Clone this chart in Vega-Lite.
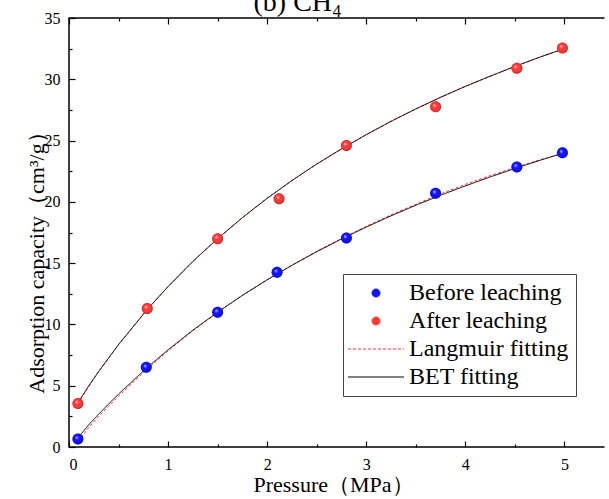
{
  "$schema": "https://vega.github.io/schema/vega-lite/v6.json",
  "width": 539,
  "height": 429,
  "autosize": {"type": "none"},
  "padding": {"left": 69, "top": 18, "right": 1, "bottom": 52},
  "background": "white",
  "config": {
    "view": {"stroke": {"gradient": "linear", "x1": 0, "y1": 0, "x2": 1, "y2": 0, "stops": [{"offset": 0, "color": "black"}, {"offset": 0.993, "color": "black"}, {"offset": 0.994, "color": "rgba(0,0,0,0)"}, {"offset": 1, "color": "rgba(0,0,0,0)"}]}, "strokeWidth": 1.5},
    "axis": {"domain": false, "tickColor": "black", "labelColor": "black", "titleColor": "black", "labelFont": "Liberation Serif", "titleFont": "Liberation Serif", "labelFontSize": 16, "titleFontSize": 22, "titleFontWeight": "normal", "grid": false, "tickWidth": 1.2},
    "legend": {"orient": "none", "legendX": 274, "legendY": 256, "labelFont": "Liberation Serif", "labelFontSize": 24, "labelColor": "black", "symbolSize": 100, "symbolStrokeWidth": 1, "symbolOffset": 14, "labelOffset": 21, "padding": 7, "rowPadding": 4, "strokeColor": "#444444", "fillColor": "white"}
  },
  "datasets": {
    "points": [
      {"P": 0.09, "V": 0.65, "key": "Before leaching"},
      {"P": 0.78, "V": 6.5, "key": "Before leaching"},
      {"P": 1.5, "V": 11.0, "key": "Before leaching"},
      {"P": 2.1, "V": 14.25, "key": "Before leaching"},
      {"P": 2.8, "V": 17.05, "key": "Before leaching"},
      {"P": 3.7, "V": 20.7, "key": "Before leaching"},
      {"P": 4.52, "V": 22.85, "key": "Before leaching"},
      {"P": 4.98, "V": 24.0, "key": "Before leaching"},
      {"P": 0.09, "V": 3.55, "key": "After leaching"},
      {"P": 0.79, "V": 11.3, "key": "After leaching"},
      {"P": 1.5, "V": 17.0, "key": "After leaching"},
      {"P": 2.12, "V": 20.25, "key": "After leaching"},
      {"P": 2.8, "V": 24.6, "key": "After leaching"},
      {"P": 3.7, "V": 27.75, "key": "After leaching"},
      {"P": 4.52, "V": 30.9, "key": "After leaching"},
      {"P": 4.98, "V": 32.55, "key": "After leaching"}
    ],
    "langmuir": [
      {"P": 0.09, "V": 0.45, "material": "before", "key": "Langmuir fitting"},
      {"P": 0.2, "V": 1.6, "material": "before", "key": "Langmuir fitting"},
      {"P": 0.3, "V": 2.5, "material": "before", "key": "Langmuir fitting"},
      {"P": 0.5, "V": 4.15, "material": "before", "key": "Langmuir fitting"},
      {"P": 0.78, "V": 6.3, "material": "before", "key": "Langmuir fitting"},
      {"P": 1.0, "V": 7.85, "material": "before", "key": "Langmuir fitting"},
      {"P": 1.25, "V": 9.48, "material": "before", "key": "Langmuir fitting"},
      {"P": 1.5, "V": 10.98, "material": "before", "key": "Langmuir fitting"},
      {"P": 1.75, "V": 12.37, "material": "before", "key": "Langmuir fitting"},
      {"P": 2.0, "V": 13.65, "material": "before", "key": "Langmuir fitting"},
      {"P": 2.25, "V": 14.84, "material": "before", "key": "Langmuir fitting"},
      {"P": 2.5, "V": 15.97, "material": "before", "key": "Langmuir fitting"},
      {"P": 2.75, "V": 17.01, "material": "before", "key": "Langmuir fitting"},
      {"P": 3.0, "V": 18.0, "material": "before", "key": "Langmuir fitting"},
      {"P": 3.25, "V": 18.93, "material": "before", "key": "Langmuir fitting"},
      {"P": 3.5, "V": 19.8, "material": "before", "key": "Langmuir fitting"},
      {"P": 3.75, "V": 20.64, "material": "before", "key": "Langmuir fitting"},
      {"P": 4.0, "V": 21.42, "material": "before", "key": "Langmuir fitting"},
      {"P": 4.25, "V": 22.13, "material": "before", "key": "Langmuir fitting"},
      {"P": 4.5, "V": 22.8, "material": "before", "key": "Langmuir fitting"},
      {"P": 4.75, "V": 23.42, "material": "before", "key": "Langmuir fitting"},
      {"P": 4.98, "V": 23.97, "material": "before", "key": "Langmuir fitting"},
      {"P": 0.09, "V": 3.55, "material": "after", "key": "Langmuir fitting"},
      {"P": 0.2, "V": 4.95, "material": "after", "key": "Langmuir fitting"},
      {"P": 0.3, "V": 6.15, "material": "after", "key": "Langmuir fitting"},
      {"P": 0.5, "V": 8.35, "material": "after", "key": "Langmuir fitting"},
      {"P": 0.79, "V": 11.22, "material": "after", "key": "Langmuir fitting"},
      {"P": 1.0, "V": 13.09, "material": "after", "key": "Langmuir fitting"},
      {"P": 1.25, "V": 15.14, "material": "after", "key": "Langmuir fitting"},
      {"P": 1.5, "V": 17.0, "material": "after", "key": "Langmuir fitting"},
      {"P": 1.75, "V": 18.71, "material": "after", "key": "Langmuir fitting"},
      {"P": 2.0, "V": 20.29, "material": "after", "key": "Langmuir fitting"},
      {"P": 2.25, "V": 21.74, "material": "after", "key": "Langmuir fitting"},
      {"P": 2.5, "V": 23.08, "material": "after", "key": "Langmuir fitting"},
      {"P": 2.75, "V": 24.32, "material": "after", "key": "Langmuir fitting"},
      {"P": 3.0, "V": 25.48, "material": "after", "key": "Langmuir fitting"},
      {"P": 3.25, "V": 26.57, "material": "after", "key": "Langmuir fitting"},
      {"P": 3.5, "V": 27.58, "material": "after", "key": "Langmuir fitting"},
      {"P": 3.75, "V": 28.53, "material": "after", "key": "Langmuir fitting"},
      {"P": 4.0, "V": 29.42, "material": "after", "key": "Langmuir fitting"},
      {"P": 4.25, "V": 30.25, "material": "after", "key": "Langmuir fitting"},
      {"P": 4.5, "V": 31.05, "material": "after", "key": "Langmuir fitting"},
      {"P": 4.75, "V": 31.8, "material": "after", "key": "Langmuir fitting"},
      {"P": 4.98, "V": 32.45, "material": "after", "key": "Langmuir fitting"}
    ],
    "bet": [
      {"P": 0.09, "V": 0.75, "material": "before", "key": "BET fitting"},
      {"P": 0.2, "V": 1.82, "material": "before", "key": "BET fitting"},
      {"P": 0.3, "V": 2.69, "material": "before", "key": "BET fitting"},
      {"P": 0.5, "V": 4.32, "material": "before", "key": "BET fitting"},
      {"P": 0.78, "V": 6.42, "material": "before", "key": "BET fitting"},
      {"P": 1.0, "V": 7.93, "material": "before", "key": "BET fitting"},
      {"P": 1.25, "V": 9.53, "material": "before", "key": "BET fitting"},
      {"P": 1.5, "V": 11.0, "material": "before", "key": "BET fitting"},
      {"P": 1.75, "V": 12.37, "material": "before", "key": "BET fitting"},
      {"P": 2.0, "V": 13.64, "material": "before", "key": "BET fitting"},
      {"P": 2.25, "V": 14.82, "material": "before", "key": "BET fitting"},
      {"P": 2.5, "V": 15.93, "material": "before", "key": "BET fitting"},
      {"P": 2.75, "V": 16.97, "material": "before", "key": "BET fitting"},
      {"P": 3.0, "V": 17.94, "material": "before", "key": "BET fitting"},
      {"P": 3.25, "V": 18.86, "material": "before", "key": "BET fitting"},
      {"P": 3.5, "V": 19.72, "material": "before", "key": "BET fitting"},
      {"P": 3.75, "V": 20.54, "material": "before", "key": "BET fitting"},
      {"P": 4.0, "V": 21.3, "material": "before", "key": "BET fitting"},
      {"P": 4.25, "V": 22.03, "material": "before", "key": "BET fitting"},
      {"P": 4.5, "V": 22.72, "material": "before", "key": "BET fitting"},
      {"P": 4.75, "V": 23.38, "material": "before", "key": "BET fitting"},
      {"P": 4.98, "V": 23.95, "material": "before", "key": "BET fitting"},
      {"P": 0.09, "V": 3.6, "material": "after", "key": "BET fitting"},
      {"P": 0.2, "V": 5.0, "material": "after", "key": "BET fitting"},
      {"P": 0.3, "V": 6.17, "material": "after", "key": "BET fitting"},
      {"P": 0.5, "V": 8.36, "material": "after", "key": "BET fitting"},
      {"P": 0.79, "V": 11.22, "material": "after", "key": "BET fitting"},
      {"P": 1.0, "V": 13.09, "material": "after", "key": "BET fitting"},
      {"P": 1.25, "V": 15.14, "material": "after", "key": "BET fitting"},
      {"P": 1.5, "V": 17.0, "material": "after", "key": "BET fitting"},
      {"P": 1.75, "V": 18.71, "material": "after", "key": "BET fitting"},
      {"P": 2.0, "V": 20.29, "material": "after", "key": "BET fitting"},
      {"P": 2.25, "V": 21.74, "material": "after", "key": "BET fitting"},
      {"P": 2.5, "V": 23.08, "material": "after", "key": "BET fitting"},
      {"P": 2.75, "V": 24.32, "material": "after", "key": "BET fitting"},
      {"P": 3.0, "V": 25.48, "material": "after", "key": "BET fitting"},
      {"P": 3.25, "V": 26.57, "material": "after", "key": "BET fitting"},
      {"P": 3.5, "V": 27.58, "material": "after", "key": "BET fitting"},
      {"P": 3.75, "V": 28.53, "material": "after", "key": "BET fitting"},
      {"P": 4.0, "V": 29.42, "material": "after", "key": "BET fitting"},
      {"P": 4.25, "V": 30.25, "material": "after", "key": "BET fitting"},
      {"P": 4.5, "V": 31.05, "material": "after", "key": "BET fitting"},
      {"P": 4.75, "V": 31.8, "material": "after", "key": "BET fitting"},
      {"P": 4.98, "V": 32.45, "material": "after", "key": "BET fitting"}
    ]
  },
  "resolve": {"axis": {"x": "independent", "y": "independent"}},
  "layer": [
    {
      "data": {"name": "langmuir"},
      "mark": {"type": "line", "strokeWidth": 1},
      "encoding": {
        "x": {"field": "P", "type": "quantitative", "scale": {"domain": [0, 5.44], "nice": false, "zero": false},
          "axis": {"orient": "bottom", "values": [0, 1, 2, 3, 4, 5], "format": "d", "offset": -6, "tickSize": 6, "labelPadding": 9.5, "title": "Pressure（MPa）", "titlePadding": 2, "titleX": 264}},
        "y": {"field": "V", "type": "quantitative", "scale": {"domain": [0, 35], "nice": false},
          "axis": {"orient": "left", "values": [0, 5, 10, 15, 20, 25, 30, 35], "format": "d", "offset": -6, "tickSize": 6, "labelPadding": 9, "title": "Adsorption capacity（cm³/g）", "titlePadding": -4, "titleY": 239}},
        "color": {"field": "key", "type": "nominal",
          "scale": {"domain": ["Before leaching", "After leaching", "Langmuir fitting", "BET fitting"], "range": ["#1212ff", "#ff3838", "#ff3333", "#000000"]},
          "legend": {"title": null}},
        "strokeDash": {"field": "key", "type": "nominal",
          "scale": {"domain": ["Before leaching", "After leaching", "Langmuir fitting", "BET fitting"], "range": [[1, 0], [1, 0], [3, 2], [1, 0]]},
          "legend": {"title": null}},
        "detail": {"field": "material", "type": "nominal"}
      }
    },
    {
      "data": {"name": "bet"},
      "mark": {"type": "line", "strokeWidth": 1},
      "encoding": {
        "x": {"field": "P", "type": "quantitative",
          "axis": {"orient": "bottom", "values": [0.5, 1.5, 2.5, 3.5, 4.5], "offset": -3, "tickSize": 3, "labels": false, "title": null}},
        "y": {"field": "V", "type": "quantitative",
          "axis": {"orient": "left", "values": [2.5, 7.5, 12.5, 17.5, 22.5, 27.5, 32.5], "offset": -3, "tickSize": 3, "labels": false, "title": null}},
        "color": {"field": "key", "type": "nominal", "legend": {"title": null}},
        "strokeDash": {"field": "key", "type": "nominal", "legend": {"title": null}},
        "detail": {"field": "material", "type": "nominal"}
      }
    },
    {
      "data": {"name": "points"},
      "mark": {"type": "point", "filled": true, "size": 189, "opacity": 1, "strokeWidth": 0},
      "encoding": {
        "x": {"field": "P", "type": "quantitative",
          "axis": {"orient": "top", "values": [0, 1, 2, 3, 4, 5], "offset": -6, "tickSize": 6, "labels": false,
            "title": "(b) CH₄", "titleX": 184, "titleY": -13.5, "titleAlign": "left", "titleBaseline": "alphabetic", "titleFontSize": 28, "titleAngle": 0}},
        "y": {"field": "V", "type": "quantitative", "axis": null},
        "color": {"field": "key", "type": "nominal", "legend": {"title": null}},
        "shape": {"field": "key", "type": "nominal",
          "scale": {"domain": ["Before leaching", "After leaching", "Langmuir fitting", "BET fitting"], "range": ["M-0.8,0A0.8,0.8 0 1,0 0.8,0A0.8,0.8 0 1,0 -0.8,0Z", "M-0.8,0A0.8,0.8 0 1,0 0.8,0A0.8,0.8 0 1,0 -0.8,0Z", "M-5.6,0H5.6", "M-5.6,0H5.6"]},
          "legend": {"title": null}}
      }
    },
    {
      "data": {"name": "points"},
      "mark": {"type": "point", "shape": "circle", "filled": true, "size": 121, "opacity": 1, "strokeWidth": 0,
        "fill": {"gradient": "radial", "x1": 0.36, "y1": 0.33, "r1": 0, "x2": 0.5, "y2": 0.5, "r2": 0.5, "stops": [{"offset": 0, "color": "rgba(255,255,255,0.75)"}, {"offset": 0.4, "color": "rgba(255,255,255,0)"}, {"offset": 0.75, "color": "rgba(0,0,0,0)"}, {"offset": 1, "color": "rgba(0,0,0,0.3)"}]}},
      "encoding": {
        "x": {"field": "P", "type": "quantitative",
          "axis": {"orient": "top", "values": [0.5, 1.5, 2.5, 3.5, 4.5], "offset": -3, "tickSize": 3, "labels": false, "title": null}},
        "y": {"field": "V", "type": "quantitative", "axis": null}
      }
    }
  ]
}
